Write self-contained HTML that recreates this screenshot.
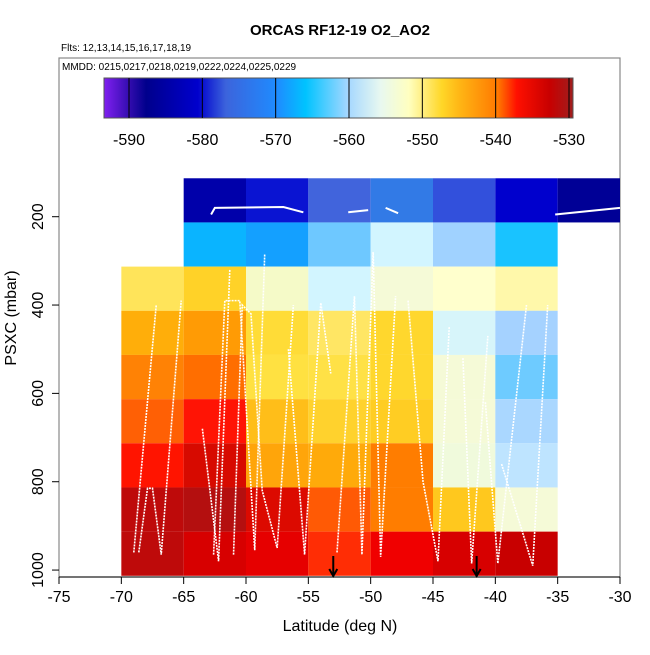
<!DOCTYPE html>
<html><head><meta charset="utf-8"><style>
body{margin:0;background:#fff;font-family:"Liberation Sans",sans-serif}
svg text{font-family:"Liberation Sans",sans-serif}
</style></head><body>
<svg id="chart" width="650" height="650" xmlns="http://www.w3.org/2000/svg">
<defs><linearGradient id="cb" x1="0" x2="1" y1="0" y2="0">
<stop offset="0" stop-color="#8020F0"/><stop offset="0.06" stop-color="#2A0AA8"/><stop offset="0.09" stop-color="#00008C"/>
<stop offset="0.2" stop-color="#0000CD"/><stop offset="0.26" stop-color="#3C64DC"/><stop offset="0.37" stop-color="#1E8CFF"/>
<stop offset="0.43" stop-color="#00C3FF"/><stop offset="0.52" stop-color="#A5D7FF"/><stop offset="0.59" stop-color="#E8F8F0"/>
<stop offset="0.65" stop-color="#FFFFC0"/><stop offset="0.72" stop-color="#FFD728"/><stop offset="0.76" stop-color="#FFB414"/>
<stop offset="0.84" stop-color="#FF7800"/><stop offset="0.88" stop-color="#FF1000"/><stop offset="0.95" stop-color="#C80000"/>
<stop offset="1" stop-color="#A01E1E"/></linearGradient></defs>
<text x="340" y="35" font-size="15" font-weight="bold" text-anchor="middle">ORCAS RF12-19 O2_AO2</text>
<text x="61" y="51" font-size="10">Flts: 12,13,14,15,16,17,18,19</text>
<rect x="59" y="58" width="561" height="519" fill="none" stroke="#888" stroke-width="1.2"/>
<text x="62" y="70" font-size="10">MMDD: 0215,0217,0218,0219,0222,0224,0225,0229</text>
<rect x="104" y="78" width="469" height="40" fill="url(#cb)" stroke="#555" stroke-width="1"/>
<g id="cells"></g><g id="tracks"></g><g id="axes"></g>
<text x="340" y="631" font-size="16" text-anchor="middle">Latitude (deg N)</text>
<text transform="translate(16,318) rotate(-90)" font-size="16" text-anchor="middle">PSXC (mbar)</text>
</svg>
<script>
const lats=[-70,-65,-60,-55,-50,-45,-40,-35];
const presBins=[113,213,313,413,513,613,713,813,913];
const cellColors=[
[null,null,"#FFE45A","#FFAE0A","#FF8205","#FF6005","#FF1400","#BE0A0A","#BE0A0A"],
["#0000AA","#0AB4FF","#FFD228","#FF9B05","#FF6E00","#FF1405","#D70A00","#B40F0F","#D70000"],
["#0A14D2","#14A0FF","#F5FAC8","#FFDC37","#FFE141","#FFBE19","#FFA50A","#DC0A00","#E60000"],
["#4164DC","#6EC8FF","#D2F5FF","#FFE664","#FFE146","#FFD22D","#FFAA0A","#FF5A05","#FF2D05"],
["#327AE6","#D2F5FF","#F5FAD7","#FFD72D","#FFD72D","#FFCD23","#FF7D00","#FF7D00","#F00000"],
["#3250DC","#A0D2FF","#FFFFCD","#D7F5FA","#F5FAD7","#F5FAD7","#F0FADC","#FFC81E","#D70000"],
["#0000CD","#19C3FF","#FFF8AA","#A5D2FF","#6ECBFF","#AAD7FF","#BEE4FF","#F5FAD7","#C80000"],
["#000096",null,null,null,null,null,null,null,null]];
const xTicks=[-75,-70,-65,-60,-55,-50,-45,-40,-35,-30];
const yTicks=[200,400,600,800,1000];
const cbTicks=[-590,-580,-570,-560,-550,-540,-530];
const arrowLats=[-53,-41.5];
const tracks=[
[[-68.6,960],[-67.9,815],[-67.5,815],[-66.8,965],[-65.2,390]],
[[-69,960],[-67.2,400]],
[[-62.6,965],[-61.7,390],[-60.5,390],[-59.3,955],[-58.5,285]],
[[-63.5,680],[-62.2,980],[-61.3,320]],
[[-61,965],[-60.3,400],[-59.6,420],[-58.7,820],[-57.5,950],[-56.2,400]],
[[-56.6,500],[-55.3,965],[-54,395],[-53.2,555]],
[[-52.7,960],[-51.3,380],[-50.7,965],[-49.8,280],[-49.2,970],[-48,380]],
[[-47,390],[-45.8,800],[-44.6,980],[-43.7,450]],
[[-42.6,520],[-41.9,985],[-40.6,470]],
[[-40.8,620],[-39.8,985],[-37.5,400]],
[[-39.5,760],[-37,990],[-35.8,400]]];
const topTracks=[[[-62.8,195],[-62.5,180],[-57,178],[-55.4,190]],[[-51.8,190],[-50.2,185]],[[-48.8,180],[-47.8,192]],[[-35.2,195],[-30,180]]];
const X=v=>59+(v+75)*(561/45);
const Y=p=>216.7+(p-200)*0.4417;
const CB=v=>129+(v+590)*(440/60);
const NS="http://www.w3.org/2000/svg";
function mk(t,a,p){const e=document.createElementNS(NS,t);for(const k in a)e.setAttribute(k,a[k]);p.appendChild(e);return e;}
const cells=document.getElementById('cells');
cellColors.forEach((col,i)=>col.forEach((c,j)=>{
 if(!c)return;
 const x0=X(lats[i]),x1=i==7?620:X(lats[i]+5);
 const y0=Y(presBins[j]),y1=Y(presBins[j]+100);
 const r=mk('rect',{x:x0,y:y0,width:x1-x0,height:y1-y0,fill:c},cells);
 
 
}));
const tr=document.getElementById('tracks');
tracks.forEach(t=>{const p=mk('polyline',{points:t.map(q=>X(q[0])+','+Y(q[1])).join(' '),fill:'none',stroke:'#fff','stroke-width':1.6,'stroke-dasharray':'2 1'},tr);
 
 });
topTracks.forEach(t=>{const p=mk('polyline',{points:t.map(q=>X(q[0])+','+Y(q[1])).join(' '),fill:'none',stroke:'#fff','stroke-width':2},tr);
 
 });
const ax=document.getElementById('axes');
mk('line',{x1:59,y1:577,x2:620,y2:577,stroke:'#000'},ax);
xTicks.forEach(v=>{mk('line',{x1:X(v),y1:577,x2:X(v),y2:584,stroke:'#000'},ax);
 const t=mk('text',{x:X(v),y:602,'font-size':16,'text-anchor':'middle'},ax);t.textContent=v;
 
 });
yTicks.forEach(v=>{mk('line',{x1:52,y1:Y(v),x2:59,y2:Y(v),stroke:'#000'},ax);
 const t=mk('text',{transform:`translate(43,${Y(v)}) rotate(-90)`,'font-size':16,'text-anchor':'middle'},ax);t.textContent=v;
 
 });
cbTicks.forEach(v=>{mk('line',{x1:CB(v),y1:78,x2:CB(v),y2:118,stroke:'#000','stroke-width':1},ax);
 const t=mk('text',{x:CB(v),y:145,'font-size':16,'text-anchor':'middle'},ax);t.textContent=v;
 
 });
arrowLats.forEach(v=>{const g=mk('g',{stroke:'#000','stroke-width':2,fill:'none'},ax);
 
 
 mk('line',{x1:X(v),y1:556,x2:X(v),y2:576},g);
 mk('polyline',{points:`${X(v)-4},569 ${X(v)},576 ${X(v)+4},569`},g);});
</script>
</body></html>
